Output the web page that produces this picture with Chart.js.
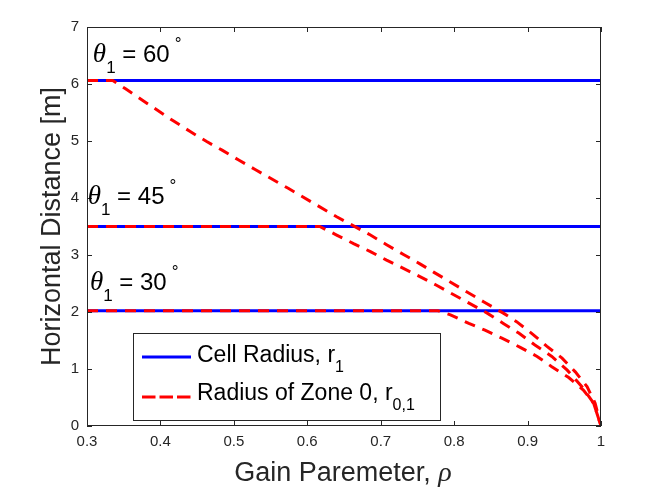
<!DOCTYPE html>
<html>
<head>
<meta charset="utf-8">
<script src="https://cdn.jsdelivr.net/npm/chart.js@4.4.1/dist/chart.umd.min.js"></script>
<style>
  body { margin: 0; background: #fff; }
  #wrap { width: 664px; height: 498px; }
</style>
</head>
<body>
<div id="wrap"><canvas id="chart" width="664" height="498"></canvas></div>
<script>
// gain parameter rho on x, horizontal distance [m] on y
const xTicks = [0.3, 0.4, 0.5, 0.6, 0.7, 0.8, 0.9, 1];
const yTicks = [0, 1, 2, 3, 4, 5, 6, 7];
const angles = ["60", "45", "30"];

// cell radius r1 (flat lines)
const cellRho = [0.3, 1];
const cellRadius = [6.062, 3.5, 2.021];

// radius of zone 0
const rho60 = [0.3, 0.335, 0.352, 0.375, 0.397, 0.418, 0.44, 0.463, 0.484, 0.506, 0.529, 0.574, 0.64, 0.686, 0.708, 0.731, 0.754, 0.772, 0.84, 0.867, 0.885, 0.908, 0.926, 0.947, 0.965, 0.981, 0.992, 1];
const zone60 = [6.062, 6.062, 5.92, 5.72, 5.53, 5.35, 5.17, 4.99, 4.84, 4.67, 4.50, 4.17, 3.67, 3.35, 3.18, 3.01, 2.84, 2.70, 2.18, 1.98, 1.83, 1.60, 1.40, 1.19, 0.95, 0.69, 0.40, 0];
const rho45 = [0.3, 0.617, 0.64, 0.663, 0.686, 0.708, 0.749, 0.776, 0.845, 0.867, 0.888, 0.91, 0.933, 0.954, 0.974, 0.99, 1];
const zone45 = [3.5, 3.5, 3.35, 3.2, 3.06, 2.91, 2.65, 2.47, 1.98, 1.80, 1.63, 1.42, 1.22, 0.98, 0.69, 0.40, 0];
const rho30 = [0.3, 0.778, 0.795, 0.82, 0.842, 0.865, 0.89, 0.913, 0.933, 0.956, 0.976, 0.99, 1];
const zone30 = [2.021, 2.021, 1.95, 1.80, 1.68, 1.54, 1.38, 1.22, 1.04, 0.85, 0.63, 0.40, 0];

// where the theta labels sit (data coords of baseline start)
const labelRho = [0.308, 0.301, 0.304];
const labelR = [6.39, 3.895, 2.386];

const AXC = "#262626";
const SANS = "'Liberation Sans', Arial, sans-serif";
const SERIF = "'Liberation Serif', 'DejaVu Serif', serif";

function pts(xs, ys) {
  return xs.map((x, i) => ({ x: x, y: ys[i] }));
}

const datasets = [];
cellRadius.forEach((r, i) => {
  datasets.push({
    label: "Cell Radius " + angles[i],
    data: pts(cellRho, [r, r]),
    borderColor: "#0000ff",
    borderWidth: 3,
    pointRadius: 0,
    order: 1
  });
});
[[rho60, zone60], [rho45, zone45], [rho30, zone30]].forEach((s, i) => {
  datasets.push({
    label: "Zone 0 " + angles[i],
    data: pts(s[0], s[1]),
    borderColor: "#ff0000",
    borderWidth: 3,
    borderDash: [11, 8],
    borderCapStyle: "butt",
    pointRadius: 0,
    order: 0
  });
});

const decor = {
  id: "decor",
  afterDraw(chart) {
    const ctx = chart.ctx;
    const ca = chart.chartArea;
    const xs = chart.scales.x, ys = chart.scales.y;
    ctx.save();

    // axes box + inward ticks
    ctx.strokeStyle = AXC;
    ctx.lineWidth = 1;
    ctx.strokeRect(ca.left + 0.5, ca.top + 0.5, ca.right - ca.left - 1, ca.bottom - ca.top - 1);
    ctx.beginPath();
    xTicks.forEach(v => {
      const p = Math.round(xs.getPixelForValue(v)) + 0.5;
      ctx.moveTo(p, ca.bottom); ctx.lineTo(p, ca.bottom - 5);
      ctx.moveTo(p, ca.top); ctx.lineTo(p, ca.top + 5);
    });
    yTicks.forEach(v => {
      const p = Math.round(ys.getPixelForValue(v)) + 0.5;
      ctx.moveTo(ca.left, p); ctx.lineTo(ca.left + 5, p);
      ctx.moveTo(ca.right, p); ctx.lineTo(ca.right - 5, p);
    });
    ctx.stroke();

    // x title with italic rho
    ctx.fillStyle = AXC;
    ctx.textBaseline = "alphabetic";
    ctx.font = "27px " + SANS;
    const t1 = "Gain Paremeter, ";
    const w1 = ctx.measureText(t1).width;
    ctx.font = "italic 28px " + SERIF;
    const w2 = ctx.measureText("\u03c1").width;
    const cx = (ca.left + ca.right) / 2 - 1;
    let sx = cx - (w1 + w2) / 2;
    const by = ca.bottom + 55;
    ctx.font = "27px " + SANS;
    ctx.fillText(t1, sx, by);
    ctx.font = "italic 28px " + SERIF;
    ctx.fillText("\u03c1", sx + w1, by);

    // theta labels
    ctx.fillStyle = "#000";
    angles.forEach((a, i) => {
      let px = xs.getPixelForValue(labelRho[i]);
      const py = ys.getPixelForValue(labelR[i]);
      ctx.font = "italic 27px " + SERIF;
      ctx.fillText("\u03b8", px, py);
      px += ctx.measureText("\u03b8").width;
      ctx.font = "17px " + SANS;
      ctx.fillText("1", px, py + 11);
      px += ctx.measureText("1").width;
      ctx.font = "24px " + SANS;
      ctx.fillText(" = " + a, px, py);
      px += ctx.measureText(" = " + a).width + 5;
      ctx.font = "17px " + SANS;
      ctx.fillText("\u00b0", px, py - 13);
    });

    // legend box
    const lx = ca.left + 46, ly = ca.bottom - 93, lw = 307, lh = 87;
    ctx.fillStyle = "#fff";
    ctx.fillRect(lx, ly, lw, lh);
    ctx.strokeStyle = AXC;
    ctx.lineWidth = 1;
    ctx.strokeRect(lx + 0.5, ly + 0.5, lw, lh);

    ctx.lineWidth = 3;
    ctx.lineCap = "butt";
    ctx.strokeStyle = "#0000ff";
    ctx.beginPath();
    ctx.moveTo(lx + 9, ly + 24); ctx.lineTo(lx + 58, ly + 24);
    ctx.stroke();
    ctx.strokeStyle = "#ff0000";
    ctx.setLineDash([13.5, 4]);
    ctx.beginPath();
    ctx.moveTo(lx + 9, ly + 64); ctx.lineTo(lx + 58, ly + 64);
    ctx.stroke();
    ctx.setLineDash([]);

    ctx.fillStyle = "#000";
    ctx.font = "23px " + SANS;
    const e1 = "Cell Radius, r";
    ctx.fillText(e1, lx + 64, ly + 29);
    let ew = ctx.measureText(e1).width;
    ctx.font = "16px " + SANS;
    ctx.fillText("1", lx + 64 + ew, ly + 39);
    ctx.font = "23px " + SANS;
    const e2 = "Radius of Zone 0, r";
    ctx.fillText(e2, lx + 64, ly + 67);
    ew = ctx.measureText(e2).width;
    ctx.font = "16px " + SANS;
    ctx.fillText("0,1", lx + 64 + ew, ly + 77);

    ctx.restore();
  }
};

new Chart(document.getElementById("chart"), {
  type: "line",
  data: { datasets: datasets },
  options: {
    responsive: false,
    animation: false,
    devicePixelRatio: 1,
    layout: { padding: { top: 27, right: 63, left: 0, bottom: 0 } },
    elements: { line: { tension: 0 } },
    plugins: { legend: { display: false }, tooltip: { enabled: false } },
    scales: {
      x: {
        type: "linear",
        min: 0.3,
        max: 1,
        grid: { display: false, drawTicks: false },
        border: { display: false },
        afterBuildTicks: s => { s.ticks = xTicks.map(v => ({ value: v })); },
        afterFit: s => { s.height = 72; },
        ticks: {
          padding: 7,
          color: AXC,
          font: { family: SANS, size: 15 },
          maxRotation: 0,
          callback: v => String(Number(v.toFixed(1)))
        }
      },
      y: {
        type: "linear",
        min: 0,
        max: 7,
        grid: { display: false, drawTicks: false },
        border: { display: false },
        afterBuildTicks: s => { s.ticks = yTicks.map(v => ({ value: v })); },
        afterFit: s => { s.width = 87; },
        ticks: {
          padding: 8,
          color: AXC,
          font: { family: SANS, size: 15 },
          callback: v => String(v)
        },
        title: {
          display: true,
          text: "Horizontal Distance [m]",
          color: AXC,
          font: { family: SANS, size: 27 },
          padding: { top: 36, bottom: 0 }
        }
      }
    }
  },
  plugins: [decor]
});
</script>
</body>
</html>
